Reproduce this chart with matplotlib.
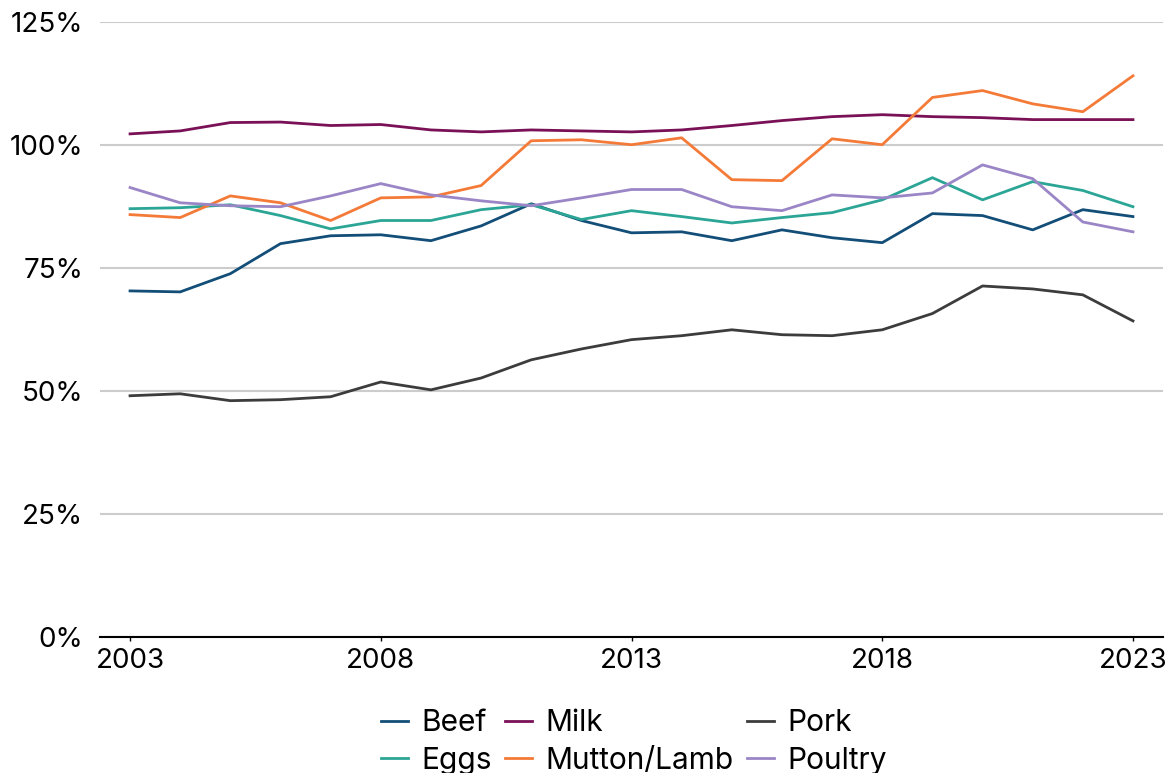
import matplotlib.pyplot as plt
import numpy as np

years = list(range(2003, 2024))

beef = [70.3, 70.1, 73.8, 79.9, 81.5, 81.7, 80.5, 83.5, 88.0, 84.6, 82.1,
        82.3, 80.5, 82.7, 81.1, 80.1, 86.0, 85.6, 82.7, 86.8, 85.4]
eggs = [87.0, 87.2, 87.8, 85.6, 82.9, 84.6, 84.6, 86.8, 87.8, 84.8, 86.6,
        85.4, 84.1, 85.2, 86.2, 88.8, 93.3, 88.8, 92.5, 90.7, 87.4]
milk = [102.2, 102.8, 104.5, 104.6, 103.9, 104.1, 103.0, 102.6, 103.0, 102.8, 102.6,
        103.0, 103.9, 104.9, 105.7, 106.1, 105.7, 105.5, 105.1, 105.1, 105.1]
mutton = [85.8, 85.2, 89.6, 88.2, 84.6, 89.2, 89.4, 91.7, 100.8, 101.0, 100.0,
          101.4, 92.9, 92.7, 101.2, 100.0, 109.6, 111.0, 108.3, 106.7, 114.0]
pork = [49.0, 49.4, 48.0, 48.2, 48.8, 51.8, 50.2, 52.6, 56.3, 58.5, 60.4,
        61.2, 62.4, 61.4, 61.2, 62.4, 65.7, 71.3, 70.7, 69.5, 64.2]
poultry = [91.3, 88.2, 87.6, 87.4, 89.6, 92.1, 89.8, 88.6, 87.6, 89.2, 90.9,
           90.9, 87.4, 86.6, 89.8, 89.2, 90.2, 95.9, 93.1, 84.3, 82.3]

series = [
    ("Beef", beef, "#124e78"),
    ("Eggs", eggs, "#2ba595"),
    ("Milk", milk, "#7a1157"),
    ("Mutton/Lamb", mutton, "#f47a38"),
    ("Pork", pork, "#3c3c3c"),
    ("Poultry", poultry, "#9a86c6"),
]

plt.rcParams['font.family'] = ['Inter', 'DejaVu Sans']

fig = plt.figure(figsize=(11.76, 7.73), dpi=100)
ax = fig.add_axes([0.085, 0.176, 0.904, 0.796])

for name, vals, col in series:
    ax.plot(years, vals, color=col, linewidth=2, label=name)

ax.set_xlim(2002.4, 2023.6)
ax.set_ylim(0, 125)
ax.set_yticks([0, 25, 50, 75, 100, 125])
ax.set_yticklabels(["0%", "25%", "50%", "75%", "100%", "125%"])
ax.set_xticks([2003, 2008, 2013, 2018, 2023])

ax.grid(axis='y', color='#cccccc', linewidth=1.5)
ax.set_axisbelow(True)
for s in ['top', 'right', 'left']:
    ax.spines[s].set_visible(False)
ax.spines['bottom'].set_color('black')
ax.spines['bottom'].set_linewidth(1.5)
ax.spines['bottom'].set_zorder(5)

ax.tick_params(axis='y', length=0, labelsize=20, pad=12)
ax.tick_params(axis='x', length=3, width=1, labelsize=20, pad=5)

ax.legend(loc='upper center', bbox_to_anchor=(0.502, -0.098), ncol=3, frameon=False,
          fontsize=21.5, handlelength=0.9, handletextpad=0.45, columnspacing=0.45,
          labelspacing=0.32, borderaxespad=0)

fig.savefig("out.png", dpi=100)
